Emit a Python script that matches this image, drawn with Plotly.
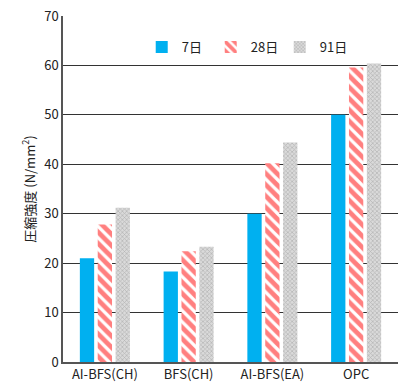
import plotly.graph_objects as go

categories = ["AI-BFS(CH)", "BFS(CH)", "AI-BFS(EA)", "OPC"]
d7 = [21.0, 18.3, 30.0, 50.0]
d28 = [27.8, 22.4, 40.2, 59.6]
d91 = [31.2, 23.3, 44.4, 60.4]
series_names = ["7日", "28日", "91日"]
y_ticks = [0, 10, 20, 30, 40, 50, 60, 70]

fig = go.Figure()
fig.add_trace(go.Bar(name=series_names[0], x=categories, y=d7,
                     marker=dict(color="#00B0F0", line=dict(width=0))))
fig.add_trace(go.Bar(name=series_names[1], x=categories, y=d28,
                     marker=dict(color="white", line=dict(width=0),
                                 pattern=dict(shape="\\", fgcolor="#FF0000", bgcolor="white",
                                              size=8, solidity=0.6))))
fig.add_trace(go.Bar(name=series_names[2], x=categories, y=d91,
                     marker=dict(color="white", line=dict(width=0),
                                 pattern=dict(shape="x", fgcolor="#8C8C8C", bgcolor="#DADADA",
                                              size=3, solidity=0.4))))

font = "Noto Sans CJK JP, Noto Sans, sans-serif"
fig.update_layout(
    width=398, height=389,
    margin=dict(l=63, r=0, t=16, b=27),
    plot_bgcolor="white", paper_bgcolor="white",
    barmode="group", bargap=0.36, bargroupgap=0.2,
    font=dict(family=font, size=13, color="#222222"),
    legend=dict(orientation="h", x=0.235, y=0.91, xanchor="left", yanchor="middle",
                bgcolor="rgba(0,0,0,0)", font=dict(size=13),
                entrywidth=24, entrywidthmode="pixels",
                traceorder="normal"),
    xaxis=dict(showline=True, linecolor="#555555", linewidth=1.5, ticks="",
               tickfont=dict(size=13), showgrid=False),
    yaxis=dict(range=[0, 70], tickvals=y_ticks, showline=True, linecolor="#555555",
               linewidth=1.5, showgrid=True, gridcolor="#333333", gridwidth=1,
               ticks="", tickfont=dict(size=13), zeroline=False,
               title=dict(text="圧縮強度 (N/mm<sup>2</sup>)", font=dict(size=13), standoff=6)),
)
fig.write_html("out.html")
